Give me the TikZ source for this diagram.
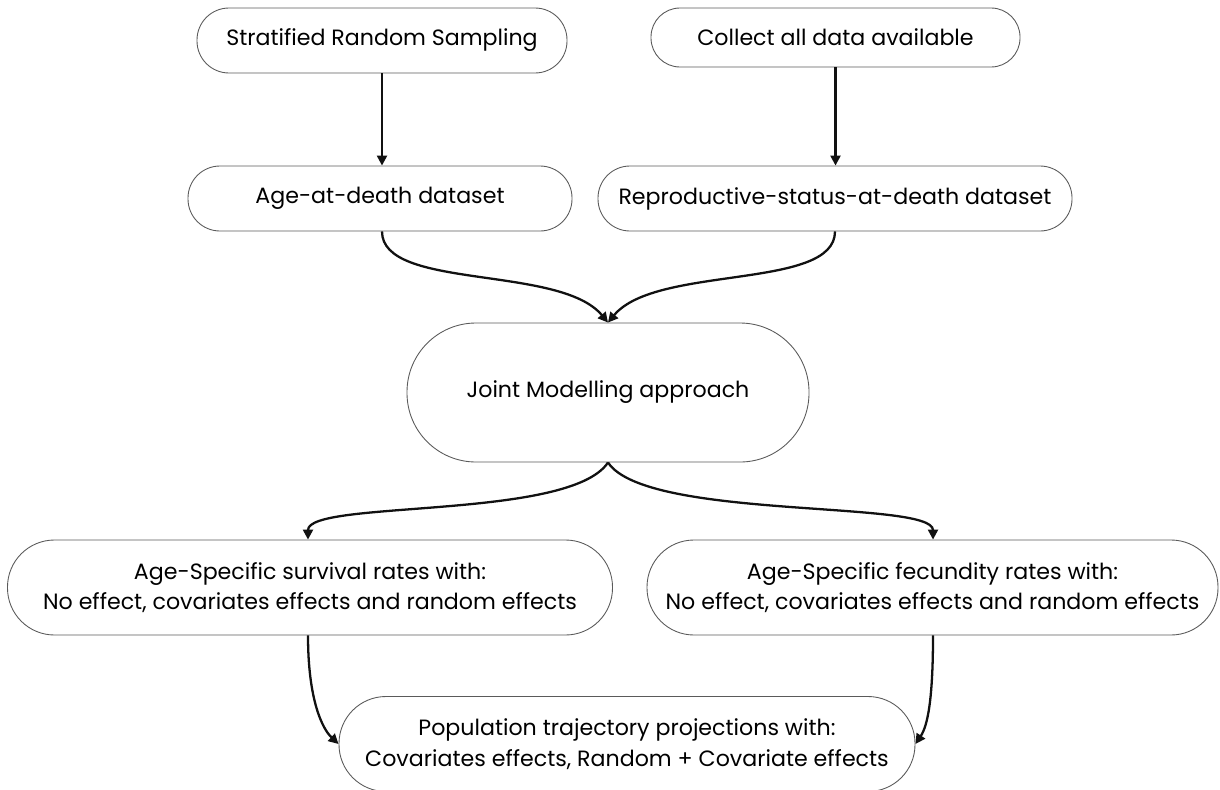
\documentclass[tikz,border=0pt]{standalone}
\usepackage{fontspec}
\setmainfont{Poppins}
\usepackage{tikz}
\usetikzlibrary{arrows.meta,positioning,calc}
\definecolor{fcLine}{HTML}{5A5A5A}
\definecolor{fcArrow}{HTML}{111111}

\begin{document}
\begin{tikzpicture}[
  x=0.2mm,y=-0.2mm,
  stadium/.style={draw=fcLine,line width=0.5pt,fill=white,align=center,
    inner sep=0pt,font=\fontsize{12.6}{17.5}\selectfont},
  ar/.style={-{Triangle[length=2mm,width=2mm]},line width=1.3pt,draw=fcArrow}
]
\clip (0,0) rectangle (1220,789);

\node[stadium,minimum width=74mm,minimum height=13mm,rounded corners=6.4mm]
  (srs) at (382,40.5) {Stratified Random Sampling};
\node[stadium,minimum width=73.8mm,minimum height=11.8mm,rounded corners=5.8mm]
  (collect) at (835.5,37.5) {Collect all data available};
\node[stadium,minimum width=76.8mm,minimum height=13mm,rounded corners=6.4mm]
  (agedata) at (380,198.5) {Age-at-death dataset};
\node[stadium,minimum width=94.8mm,minimum height=13mm,rounded corners=6.4mm]
  (repdata) at (835,198.5) {Reproductive-status-at-death dataset};
\node[stadium,minimum width=80.4mm,minimum height=27.8mm,rounded corners=13.8mm]
  (joint) at (608,392.5) {Joint Modelling approach};
\node[stadium,minimum width=121mm,minimum height=19mm,rounded corners=9.4mm]
  (survival) at (310,587.5) {Age-Specific survival rates with:\\
  No effect, covariates effects and random effects};
\node[stadium,minimum width=114.2mm,minimum height=19mm,rounded corners=9.4mm]
  (fecundity) at (932.5,587.5) {Age-Specific fecundity rates with:\\
  No effect, covariates effects and random effects};
\node[stadium,minimum width=115.2mm,minimum height=19mm,rounded corners=9.4mm]
  (popproj) at (627,744) {Population trajectory projections with:\\
  Covariates effects, Random + Covariate effects};

% sampling and collection
\draw[ar] (srs.south) -- (srs.south |- agedata.north);
\draw[ar] (collect.south) -- (collect.south |- repdata.north);

% both datasets into the joint model
\draw[ar] ([xshift=0.4mm]agedata.south) .. controls +(0,59) and +(-48,-58) .. (joint.north);
\draw[ar] (repdata.south) .. controls +(0,59) and +(48,-58) .. (joint.north);

% joint model out to the two rate boxes
\draw[ar] (joint.south) .. controls +(-38,58) and +(0,-40) .. ([xshift=-0.4mm]survival.north);
\draw[ar] (joint.south) .. controls +(38,58) and +(0,-40) .. ([xshift=0.1mm]fecundity.north);

% rates into the projections
\draw[ar] ([xshift=-0.4mm]survival.south) .. controls +(0,65) and +(-16,-15) .. (popproj.west);
\draw[ar] ([xshift=0.1mm]fecundity.south) .. controls +(0,65) and +(12,-18) .. (popproj.east);
\end{tikzpicture}
\end{document}
